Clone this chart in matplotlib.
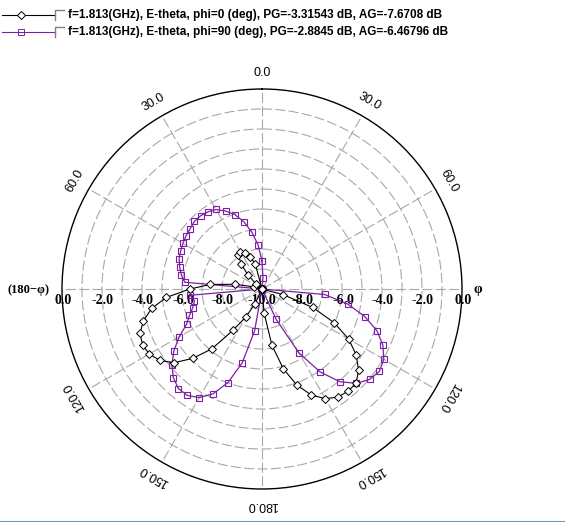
import numpy as np
import matplotlib
matplotlib.use('Agg')
import matplotlib.pyplot as plt
from matplotlib.lines import Line2D

# theta samples (deg) for each half of the cut
theta_deg = np.arange(0, 181, 5)

# E-theta, phi=0 plane (right half) and phi=180 plane (left half), dB
black_right = [-10, -10, -10, -10, -10, -10, -10, -10, -10, -10,
               -10, -10, -10, -10, -10, -10, -10, -10, -10, -10,
               -10, -8.9, -7.3, -6.03, -5.0, -4.25, -3.7, -3.34, -3.32, -3.4,
               -3.67, -4.15, -4.88, -5.86, -7.15, -8.8, -10]
black_left = [-10, -10, -10, -8.7, -8.3, -8.0, -7.85, -7.95, -8.4, -9.0,
              -9.6, -10, -10, -10, -10, -9.6, -8.64, -7.4, -6.4, -5.2,
              -4.4, -3.86, -3.51, -3.41, -3.49, -3.77, -4.27, -5.09, -6.09, -7.49,
              -8.4, -9.2, -10, -10, -10, -10, -10]

# E-theta, phi=90 plane (right half) and phi=270 plane (left half), dB
purple_right = [-8.6, -9.45, -10, -10, -10, -10, -10, -10, -10, -10,
                -10, -10, -10, -10, -10, -10, -10, -10, -10, -6.86,
                -5.64, -4.68, -3.88, -3.33, -2.97, -2.83, -2.97, -3.33, -3.95, -4.94,
                -6.32, -8.32, -10, -10, -10, -10, -10]
purple_left = [-8.6, -7.8, -7.13, -6.53, -6.04, -5.7, -5.41, -5.29, -5.22, -5.22,
               -5.31, -5.36, -5.44, -5.51, -5.59, -5.74, -5.9, -6.12, -10, -6.4,
               -6.57, -6.42, -6.14, -5.84, -5.22, -4.62, -4.12, -3.73, -3.5, -3.5,
               -3.73, -4.22, -5.02, -6.18, -7.88, -10, -10]

legend_labels = ["f=1.813(GHz), E-theta, phi=0 (deg), PG=-3.31543 dB, AG=-7.6708 dB",
                 "f=1.813(GHz), E-theta, phi=90 (deg), PG=-2.8845 dB, AG=-6.46796 dB"]
radial_ticks = [0, -2, -4, -6, -8]
angle_ticks = [0, 30, 60, 120, 150, 180]

BLACK = 'black'
PURPLE = '#7d1fa3'
GRID = '#a8a8a8'
W, H = 565, 522


def full_cut(right, left):
    ang = np.concatenate([theta_deg, 360 - theta_deg[::-1][1:]])
    val = np.concatenate([np.array(right), np.array(left)[::-1][1:]])
    return np.deg2rad(ang), np.clip(val, -10, 0)


fig = plt.figure(figsize=(W / 100, H / 100), dpi=100)
ax = fig.add_axes([62 / W, 33 / H, 400 / W, 400 / H], projection='polar')
ax.set_theta_zero_location('N')
ax.set_theta_direction(-1)
ax.set_ylim(-10, 0)
ax.set_rticks(np.arange(-9, 0, 1))
ax.set_yticklabels([])
ax.set_thetagrids(np.arange(0, 360, 30), labels=[''] * 12)
ax.grid(True, color=GRID, lw=0.8, ls=(0, (9, 3)))
ax.spines['polar'].set_color('black')
ax.spines['polar'].set_linewidth(1.0)
ax.tick_params(pad=0)

th, v = full_cut(black_right, black_left)
ax.plot(th, v, color=BLACK, lw=0.8, marker='D', ms=4.3, mfc='white',
        mec=BLACK, mew=0.7, zorder=4, clip_on=False)
th, v = full_cut(purple_right, purple_left)
ax.plot(th, v, color=PURPLE, lw=0.9, marker='s', ms=3.8, mfc='none',
        mec=PURPLE, mew=0.8, zorder=3, clip_on=False)

# radial labels along the horizontal axis
for r in radial_ticks:
    frac = (r + 10) / 10 * 0.5
    for side in (1, -1):
        ax.text(0.5 + side * frac + 1 / 400, 0.5 - 11 / 400, f'{r:.1f}',
                transform=ax.transAxes, ha='center', va='center', fontsize=10,
                fontweight='bold', family='Liberation Serif', zorder=2)
ax.text(0.5, 0.5 - 11 / 400, '-10.0', transform=ax.transAxes, ha='center',
        va='center', fontsize=10, fontweight='bold', family='Liberation Serif', zorder=2)

# angle labels, tangential on both halves
for a in angle_ticks:
    sides = (1,) if a in (0, 180) else (1, -1)
    for side in sides:
        ax.text(np.deg2rad(side * a), 0.8, f'{a:.1f}', rotation=-side * a,
                rotation_mode='anchor', ha='center', va='center', fontsize=9,
                family='Liberation Sans', clip_on=False)

fig.text(28 / W, 1 - 290 / H, '(180\u2212\u03c6)', ha='center', va='center',
         fontsize=9, fontweight='bold', family='Liberation Serif')
fig.text(478 / W, 1 - 290 / H, '\u03c6', ha='center', va='center',
         fontsize=10, fontweight='bold', family='Liberation Serif')

# legend drawn like the original window's header
for i, (lab, col, mk) in enumerate(zip(legend_labels, [BLACK, PURPLE], ['D', 's'])):
    y = 1 - (15 + 17 * i) / H
    fig.add_artist(Line2D([2 / W, 55 / W], [y, y], color=col, lw=0.8))
    fig.add_artist(Line2D([21 / W], [y], color=col, marker=mk, ms=3.8,
                          mfc='white' if mk == 'D' else 'none', mec=col, mew=0.7))
    x0, x1 = 55 / W, 64 / W
    yb, yt = y - 5 / H, y + 5 / H
    fig.add_artist(Line2D([x0, x0, x1], [yb, yt, yt], color='#808080', lw=1.0))
    fig.text(68 / W, y, lab, ha='left', va='center', fontsize=8.5,
             fontweight='bold', family='Liberation Sans')

fig.add_artist(Line2D([0, 1], [0.5 / H, 0.5 / H], color='#6f93b8', lw=1.5))

fig.savefig('out.png', dpi=100)
